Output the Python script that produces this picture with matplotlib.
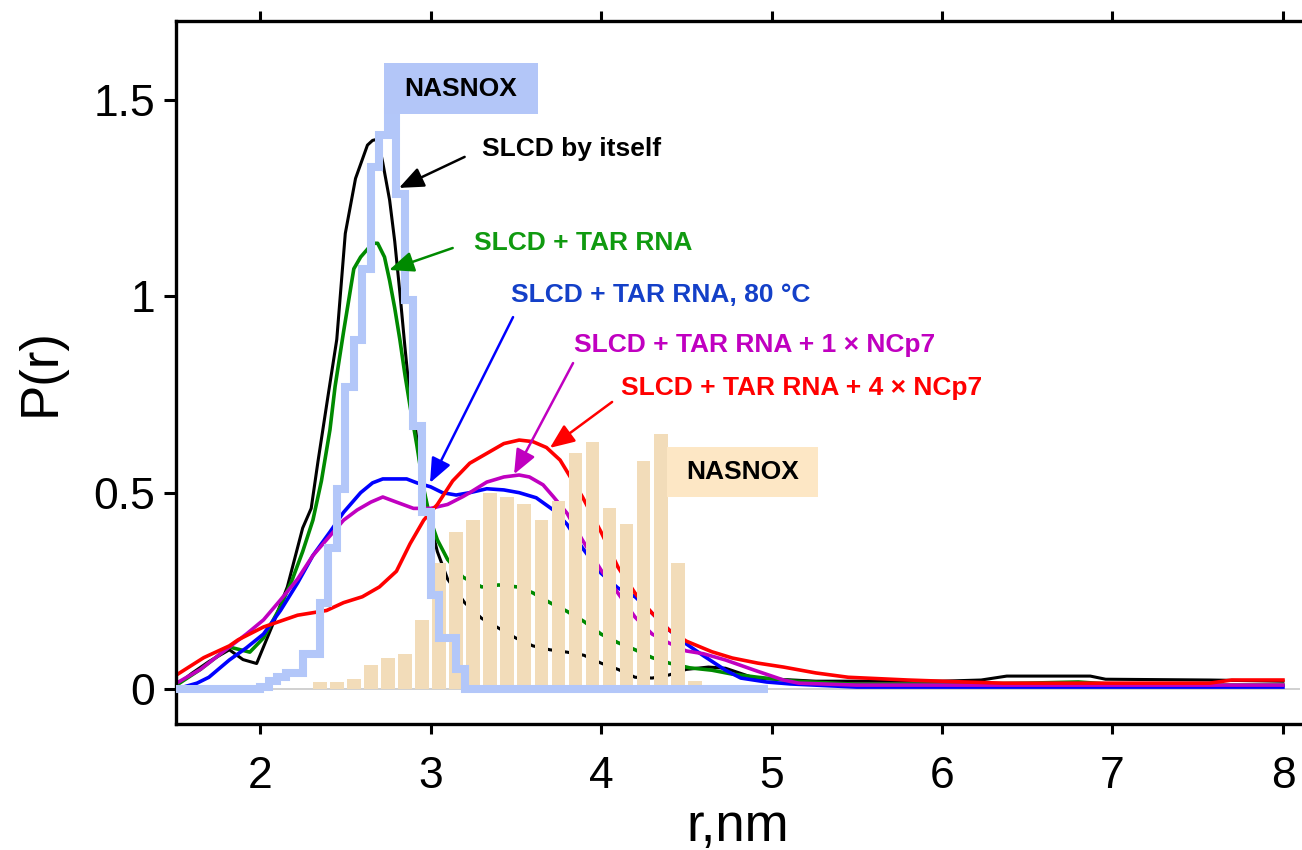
import matplotlib
matplotlib.use("Agg")
import matplotlib.pyplot as plt
from matplotlib.patches import Rectangle

plt.rcParams['font.family'] = ['Liberation Sans', 'DejaVu Sans']

# SLCD by itself
r_black = [1.51, 1.60, 1.70, 1.82, 1.90, 1.98, 2.08, 2.16, 2.22, 2.25, 2.30, 2.34, 2.40, 2.45,
           2.50, 2.56, 2.63, 2.66, 2.69, 2.72, 2.76, 2.79, 2.82, 2.85, 2.88, 2.91, 2.95, 3.00, 3.04,
           3.10, 3.20, 3.30, 3.40, 3.50, 3.60, 3.70, 3.80, 3.90, 4.00, 4.10, 4.20, 4.30, 4.40,
           4.50, 4.63, 4.73, 4.90, 5.26, 6.00, 6.23, 6.38, 6.87, 6.96, 7.57, 8.00]
p_black = [0.01, 0.04, 0.07, 0.10, 0.075, 0.065, 0.17, 0.26, 0.36, 0.41, 0.46, 0.58, 0.75, 0.89,
           1.16, 1.30, 1.385, 1.397, 1.40, 1.34, 1.245, 1.14, 1.01, 0.87, 0.74, 0.67, 0.53, 0.42, 0.35,
           0.28, 0.22, 0.18, 0.155, 0.13, 0.11, 0.10, 0.094, 0.086, 0.066, 0.05, 0.03, 0.028, 0.036,
           0.05, 0.056, 0.053, 0.028, 0.02, 0.02, 0.023, 0.033, 0.033, 0.025, 0.023, 0.02]

# SLCD + TAR RNA
r_green = [1.51, 1.65, 1.82, 1.94, 2.02, 2.12, 2.19, 2.25, 2.31, 2.36, 2.41, 2.44, 2.49, 2.55,
           2.59, 2.66, 2.69, 2.73, 2.76, 2.79, 2.82, 2.85, 2.88, 2.92, 2.96, 3.00, 3.04, 3.10,
           3.19, 3.30, 3.40, 3.51, 3.60, 3.70, 3.80, 3.90, 4.00, 4.10, 4.20, 4.30, 4.40, 4.52,
           4.65, 4.77, 4.92, 5.14, 5.50, 6.00, 6.50, 6.80, 7.00, 7.50, 8.00]
p_green = [0.01, 0.05, 0.107, 0.094, 0.13, 0.21, 0.28, 0.35, 0.43, 0.53, 0.66, 0.77, 0.91, 1.07,
           1.10, 1.135, 1.135, 1.10, 1.04, 0.97, 0.89, 0.80, 0.72, 0.62, 0.51, 0.43, 0.38, 0.33,
           0.285, 0.26, 0.265, 0.26, 0.245, 0.22, 0.198, 0.172, 0.14, 0.118, 0.10, 0.08, 0.066, 0.054,
           0.048, 0.038, 0.03, 0.02, 0.012, 0.012, 0.015, 0.018, 0.012, 0.01, 0.01]

# SLCD + TAR RNA, 80 C
r_blue = [1.51, 1.63, 1.70, 1.82, 1.92, 2.02, 2.12, 2.22, 2.31, 2.41, 2.49, 2.59, 2.66, 2.72,
          2.86, 2.92, 3.00, 3.07, 3.15, 3.23, 3.33, 3.43, 3.52, 3.62, 3.72, 3.80, 3.89, 4.00,
          4.10, 4.20, 4.30, 4.40, 4.50, 4.60, 4.73, 4.82, 4.97, 5.11, 5.50, 6.00, 7.00, 8.00]
p_blue = [0.0, 0.015, 0.03, 0.074, 0.105, 0.14, 0.20, 0.27, 0.34, 0.40, 0.45, 0.50, 0.525, 0.535,
          0.535, 0.525, 0.515, 0.50, 0.494, 0.50, 0.51, 0.507, 0.50, 0.487, 0.456, 0.42, 0.36, 0.295,
          0.257, 0.235, 0.193, 0.15, 0.115, 0.085, 0.048, 0.028, 0.018, 0.013, 0.005, 0.005, 0.005, 0.005]

# SLCD + TAR RNA + 1 x NCp7
r_purple = [1.51, 1.65, 1.82, 1.92, 2.02, 2.12, 2.22, 2.31, 2.41, 2.49, 2.57, 2.65, 2.72, 2.80,
            2.90, 3.00, 3.10, 3.19, 3.23, 3.33, 3.43, 3.52, 3.58, 3.66, 3.72, 3.80, 3.89, 4.00,
            4.10, 4.20, 4.30, 4.40, 4.50, 4.60, 4.73, 4.90, 5.07, 5.16, 5.50, 8.00]
p_purple = [0.015, 0.05, 0.107, 0.14, 0.176, 0.227, 0.28, 0.34, 0.39, 0.43, 0.456, 0.476, 0.489, 0.476,
            0.46, 0.46, 0.47, 0.49, 0.50, 0.527, 0.54, 0.545, 0.54, 0.52, 0.49, 0.448, 0.38, 0.303,
            0.244, 0.183, 0.14, 0.117, 0.097, 0.09, 0.074, 0.048, 0.023, 0.015, 0.01, 0.01]

# SLCD + TAR RNA + 4 x NCp7
r_red = [1.51, 1.67, 1.82, 1.87, 2.02, 2.22, 2.39, 2.49, 2.60, 2.70, 2.80, 2.88, 2.96, 3.04,
         3.13, 3.23, 3.33, 3.43, 3.52, 3.60, 3.68, 3.76, 3.82, 3.89, 4.00, 4.10, 4.20, 4.30,
         4.40, 4.50, 4.65, 4.77, 4.92, 5.07, 5.26, 5.45, 5.80, 6.13, 6.36, 7.57, 7.70, 8.00]
p_red = [0.036, 0.08, 0.11, 0.125, 0.158, 0.188, 0.20, 0.22, 0.235, 0.26, 0.30, 0.37, 0.43, 0.47,
         0.53, 0.575, 0.60, 0.625, 0.634, 0.63, 0.615, 0.583, 0.54, 0.49, 0.40, 0.31, 0.244, 0.193,
         0.15, 0.122, 0.095, 0.079, 0.066, 0.056, 0.041, 0.03, 0.023, 0.018, 0.015, 0.015, 0.023, 0.023]

# NASNOX histogram (beige bars)
bar_r = [2.35, 2.45, 2.55, 2.65, 2.75, 2.85, 2.95, 3.05, 3.15, 3.25, 3.35, 3.45,
         3.55, 3.65, 3.75, 3.85, 3.95, 4.05, 4.15, 4.25, 4.35, 4.45, 4.55]
bar_p = [0.017, 0.017, 0.025, 0.06, 0.08, 0.09, 0.176, 0.32, 0.40, 0.43, 0.50, 0.49,
         0.47, 0.43, 0.48, 0.60, 0.63, 0.46, 0.42, 0.58, 0.65, 0.32, 0.02]

# NASNOX histogram (light blue steps)
step_r = [1.50, 2.00, 2.05, 2.10, 2.15, 2.20, 2.25, 2.30, 2.35, 2.40, 2.45, 2.50, 2.55,
          2.60, 2.65, 2.70, 2.75, 2.80, 2.85, 2.90, 2.95, 3.00, 3.05, 3.10, 3.15, 3.20, 4.98]
step_p = [0.0, 0.005, 0.02, 0.03, 0.04, 0.04, 0.09, 0.09, 0.22, 0.36, 0.51, 0.77, 0.89,
          1.07, 1.33, 1.41, 1.47, 1.26, 0.99, 0.67, 0.45, 0.24, 0.13, 0.13, 0.05, 0.0, 0.0]

x_ticks = [2, 3, 4, 5, 6, 7, 8]
y_ticks = [0, 0.5, 1, 1.5]
y_ticklabels = ['0', '0.5', '1', '1.5']

fig = plt.figure(figsize=(13.02, 8.5), dpi=100)
ax = fig.add_axes([176 / 1302, 1 - 724 / 850, 1124 / 1302, 703 / 850])

ax.axhline(0, color='#c8c8c8', lw=1.2, zorder=1)

ax.plot(r_black, p_black, color='black', lw=2.2, zorder=2)
ax.plot(r_green, p_green, color='#008a00', lw=2.6, zorder=2)
ax.plot(r_blue, p_blue, color='#0000ff', lw=2.6, zorder=2)
ax.plot(r_purple, p_purple, color='#c000c0', lw=2.6, zorder=2)
ax.plot(r_red, p_red, color='#ff0000', lw=2.6, zorder=2)

ax.bar(bar_r, bar_p, width=0.08, color='#f2dcb9', zorder=3)

ax.plot(step_r, step_p, drawstyle='steps-post', color='#b3c7f9', lw=5.8,
        solid_joinstyle='miter', solid_capstyle='butt', zorder=4)

# NASNOX labels
ax.add_patch(Rectangle((2.727, 1.464), 0.903, 0.130, facecolor='#b3c6f8', edgecolor='none', zorder=5))
ax.text(3.178, 1.529, 'NASNOX', ha='center', va='center', fontsize=19, fontweight='bold', zorder=6)
ax.add_patch(Rectangle((4.387, 0.489), 0.886, 0.127, facecolor='#fde7c5', edgecolor='none', zorder=5))
ax.text(4.83, 0.552, 'NASNOX', ha='center', va='center', fontsize=19, fontweight='bold', zorder=6)

# curve labels with arrows
labels = [
    ('SLCD by itself', 'black', 'black', (3.302, 1.375), (3.20, 1.355), (2.815, 1.276)),
    ('SLCD + TAR RNA', '#109a10', '#008a00', (3.255, 1.136), (3.13, 1.123), (2.757, 1.067)),
    ('SLCD + TAR RNA, 80 °C', '#1440c8', '#0000ff', (3.472, 1.003), (3.484, 0.947), (2.997, 0.525)),
    ('SLCD + TAR RNA + 1 × NCp7', '#c000c0', '#c000c0', (3.842, 0.876), (3.836, 0.830), (3.49, 0.547)),
    ('SLCD + TAR RNA + 4 × NCp7', '#ff0000', '#ff0000', (4.117, 0.766), (4.065, 0.731), (3.70, 0.614)),
]
for txt, tcol, acol, tpos, start, end in labels:
    ax.text(tpos[0], tpos[1], txt, color=tcol, ha='left', va='center',
            fontsize=19, fontweight='bold', zorder=6)
    ax.annotate('', xy=end, xytext=start, zorder=6,
                arrowprops=dict(arrowstyle='-|>,head_length=0.6,head_width=0.25',
                                mutation_scale=25, color=acol, lw=1.8,
                                shrinkA=0, shrinkB=0))

ax.set_xlim(1.507, 8.10)
ax.set_ylim(-0.089, 1.701)
ax.set_xticks(x_ticks)
ax.set_yticks(y_ticks)
ax.set_yticklabels(y_ticklabels)
ax.tick_params(axis='both', direction='out', width=2.2, labelsize=32)
ax.tick_params(axis='y', length=9, pad=6)
ax.tick_params(axis='x', length=7, pad=16, top=True)
for s in ['left', 'bottom', 'top']:
    ax.spines[s].set_linewidth(2.4)
ax.spines['right'].set_visible(False)

ax.set_xlabel('r,nm', fontsize=38, labelpad=4)
ax.set_ylabel('P(r)', fontsize=38, labelpad=20)

fig.savefig('out.png', dpi=100)
